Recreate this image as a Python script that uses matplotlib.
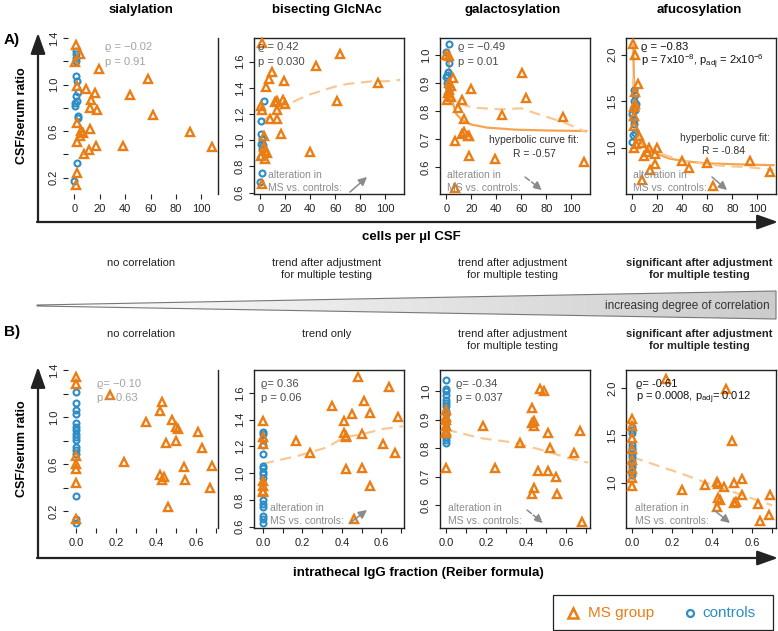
import matplotlib
matplotlib.use("Agg")
import matplotlib.pyplot as plt
from matplotlib.patches import Polygon, Rectangle
from matplotlib.colors import LinearSegmentedColormap
import numpy as np

plt.rcParams['font.family'] = ['Liberation Sans', 'DejaVu Sans']
plt.rcParams['mathtext.fontset'] = 'custom'
plt.rcParams['mathtext.rm'] = 'Liberation Sans'
plt.rcParams['mathtext.it'] = 'Liberation Sans:italic'
plt.rcParams['mathtext.bf'] = 'Liberation Sans:bold'

ORANGE = '#EA7D14'
BLUE = '#2C8DC7'
FIT_SOLID = '#F3A552'
FIT_DASH = '#F8C995'
GREY_TXT = '#8C8C8C'

W, H = 778, 631

titles = ['sialylation', 'bisecting GlcNAc', 'galactosylation', 'afucosylation']

# ---------------- row A: cells per µl CSF ----------------
sia_ms_cells = [1, 4.3, 0.5, 19.5, 58, 1.7, 9, 16, 43.5, 13, 12, 18, 62, 2, 12, 5, 7, 4.5,
                91, 2, 17, 11.5, 38, 7.5, 1.7, 1.2, 108]
sia_ms_ratio = [1.34, 1.26, 1.19, 1.13, 1.05, 0.99, 0.96, 0.93, 0.91, 0.87, 0.80, 0.78, 0.74,
                0.67, 0.62, 0.60, 0.58, 0.56, 0.59, 0.51, 0.47, 0.44, 0.47, 0.40, 0.24, 0.14, 0.46]
sia_ct_cells = [1, 1, 1, 1, 1.5, 2, 3, 1.5, 2, 0.5, 0.5, 2.5, 2.5, 2, 0]
sia_ct_ratio = [1.29, 1.26, 1.23, 1.20, 1.07, 1.03, 0.94, 0.90, 0.86, 0.84, 0.82, 0.73, 0.71,
                0.33, 0.17]

bis_ms_cells = [1.3, 64, 44.5, 9.3, 7.2, 18.7, 4.5, 94, 13.3, 12, 17.8, 20, 61, 0.3, 1.3,
                13.3, 8, 13.3, 16.8, 2.7, 39.5, 2.7, 4, 5.3, 0.8, 4, 1.3]
bis_ms_ratio = [1.74, 1.66, 1.57, 1.52, 1.47, 1.45, 1.41, 1.44, 1.30, 1.29, 1.31, 1.28, 1.30,
                1.26, 1.23, 1.23, 1.16, 1.16, 1.05, 1.03, 0.91, 0.95, 0.92, 0.90, 0.88, 0.86, 0.67]
bis_ct_cells = [2.7, 0.8, 0.5, 1.5, 0.5, 2.5, 1.2, 0.2, 1, 0]
bis_ct_ratio = [1.30, 1.15, 1.05, 1.01, 0.97, 0.96, 0.93, 0.87, 0.75, 0.68]
bis_loess_x = [2, 10, 20, 30, 40, 50, 60, 70, 80, 90, 100, 112]
bis_loess_y = [1.15, 1.20, 1.26, 1.31, 1.35, 1.38, 1.41, 1.43, 1.44, 1.45, 1.45, 1.46]

gal_ms_cells = [0, 1.9, 60.5, 5.3, 1.9, 3.5, 19.7, 63.8, 0.5, 12.5, 4, 9.3, 44.5, 93.5, 13.9,
                12.5, 14.5, 17, 18.5, 7, 17.9, 39.2, 7, 110, 1, 2.5, 3]
gal_ms_ratio = [1.00, 0.995, 0.935, 0.917, 0.90, 0.89, 0.88, 0.845, 0.84, 0.84, 0.85, 0.81,
                0.785, 0.78, 0.773, 0.72, 0.725, 0.71, 0.71, 0.695, 0.64, 0.63, 0.525, 0.62,
                0.865, 0.875, 0.855]
gal_ct_cells = [1.9, 0, 2, 1, 0.5, 0, 0.5, 1.5, 2.5, 1]
gal_ct_ratio = [1.04, 1.01, 0.97, 0.94, 0.93, 0.92, 0.90, 0.89, 0.87, 0.86]
gal_hyp_x = [2, 3, 5, 8, 12, 20, 33, 55, 80, 112]
gal_hyp_y = [0.99, 0.905, 0.833, 0.79, 0.77, 0.752, 0.741, 0.734, 0.731, 0.729]
gal_loess_x = [1, 5, 15, 22, 44, 60, 66, 80, 94, 102, 112]
gal_loess_y = [0.87, 0.84, 0.82, 0.812, 0.806, 0.81, 0.80, 0.78, 0.76, 0.745, 0.725]

afu_ms_cells = [0.3, 1.9, 4.5, 2, 2.5, 1.5, 1, 5, 7.7, 1.5, 13, 20, 11.7, 18.4, 9.6, 39.7,
                94.4, 60, 18.4, 45, 14.4, 110.4, 7.7, 64.5, 3, 1]
afu_ms_ratio = [2.12, 2.00, 1.68, 1.60, 1.47, 1.44, 1.34, 1.12, 1.05, 1.00, 1.00, 0.99, 0.95,
                0.93, 0.91, 0.86, 0.86, 0.83, 0.82, 0.78, 0.76, 0.74, 0.65, 0.59, 1.04, 1.23]
afu_ct_cells = [1, 2.5, 1, 3, 2, 0, 1, 1.5, 2, 0.5, 0]
afu_ct_ratio = [1.62, 1.57, 1.50, 1.47, 1.40, 1.36, 1.30, 1.25, 1.16, 1.13, 1.06]
afu_hyp_x = [0.8, 1, 1.3, 1.7, 2.2, 3, 4.5, 7, 11, 20, 30, 44, 60, 83, 113]
afu_hyp_y = [2.10, 1.95, 1.75, 1.55, 1.40, 1.25, 1.12, 1.05, 1.00, 0.93, 0.88, 0.85, 0.83,
             0.82, 0.81]
afu_loess_x = [0.5, 1, 2, 4, 6, 10, 18, 28, 40, 50, 60, 75, 92, 113]
afu_loess_y = [1.75, 1.60, 1.40, 1.20, 1.10, 1.02, 0.96, 0.91, 0.86, 0.84, 0.82, 0.80, 0.79,
               0.76]

# ---------------- row B: intrathecal IgG fraction ----------------
sia_ms_igg = [0, 0, 0, 0, 0, 0, 0, 0.17, 0.43, 0.42, 0.35, 0.48, 0.50, 0.51, 0.61, 0.50, 0.45,
              0.24, 0.54, 0.42, 0.44, 0.43, 0.545, 0.46, 0.63, 0.68, 0.67]
sia_ms_ratio_b = [1.34, 1.28, 0.67, 0.60, 0.56, 0.44, 0.14, 1.19, 1.13, 1.05, 0.96, 0.98, 0.92,
                  0.90, 0.87, 0.80, 0.78, 0.62, 0.58, 0.51, 0.49, 0.47, 0.47, 0.24, 0.74, 0.59,
                  0.40]
sia_ct_ratio_b = [1.21, 1.12, 1.06, 1.03, 0.95, 0.92, 0.89, 0.86, 0.83, 0.81, 0.75, 0.72, 0.69,
                  0.33, 0.14, 0.10]

bis_ms_igg = [0, 0, 0, 0, 0, 0, 0, 0.48, 0.35, 0.51, 0.41, 0.45, 0.545, 0.41, 0.42, 0.42, 0.50,
              0.17, 0.24, 0.61, 0.42, 0.50, 0.545, 0.46, 0.64, 0.685, 0.67]
bis_ms_ratio_b = [1.39, 1.27, 1.22, 0.94, 0.90, 0.87, 0.86, 1.72, 1.50, 1.54, 1.39, 1.44, 1.45,
                  1.30, 1.28, 1.27, 1.29, 1.24, 1.15, 1.22, 1.03, 1.04, 0.90, 0.66, 1.64, 1.42,
                  1.15]
bis_ct_ratio_b = [1.31, 1.29, 1.25, 1.21, 1.145, 1.055, 1.04, 1.01, 0.99, 0.96, 0.80, 0.77, 0.75,
                  0.68, 0.66, 0.63]
bis_lin_x = [0, 0.18, 0.32, 0.38, 0.42, 0.50, 0.61, 0.71]
bis_lin_y = [1.07, 1.13, 1.19, 1.24, 1.27, 1.29, 1.33, 1.35]

gal_ms_igg = [0, 0, 0, 0, 0, 0, 0, 0.47, 0.49, 0.43, 0.43, 0.44, 0.44, 0.51, 0.52, 0.185, 0.37,
              0.64, 0.246, 0.46, 0.51, 0.55, 0.44, 0.43, 0.555, 0.67, 0.68]
gal_ms_ratio_b = [0.935, 0.91, 0.90, 0.88, 0.86, 0.855, 0.73, 1.01, 1.00, 0.94, 0.89, 0.88,
                  0.895, 0.855, 0.80, 0.88, 0.82, 0.785, 0.73, 0.72, 0.72, 0.70, 0.66, 0.64,
                  0.64, 0.86, 0.54]
gal_ct_ratio_b = [1.04, 1.01, 1.00, 0.986, 0.97, 0.96, 0.95, 0.93, 0.92, 0.90, 0.89, 0.87, 0.85,
                  0.84, 0.83, 0.82]
gal_lin_x = [0, 0.17, 0.34, 0.50, 0.61, 0.71]
gal_lin_y = [0.866, 0.836, 0.82, 0.79, 0.766, 0.75]

afu_ms_igg = [0, 0, 0, 0, 0, 0, 0, 0, 0.17, 0.47, 0.50, 0.25, 0.365, 0.425, 0.43, 0.46, 0.51,
              0.55, 0.55, 0.69, 0.43, 0.44, 0.425, 0.51, 0.52, 0.63, 0.685, 0.64]
afu_ms_ratio_b = [1.67, 1.60, 1.47, 1.35, 1.24, 1.14, 1.05, 0.96, 2.10, 1.99, 1.44, 0.92, 0.97,
                  1.01, 0.99, 0.95, 1.00, 1.04, 0.87, 0.87, 0.84, 0.82, 0.74, 0.78, 0.79, 0.77,
                  0.66, 0.59]
afu_ct_ratio_b = [1.59, 1.56, 1.52, 1.40, 1.37, 1.34, 1.30, 1.27, 1.23, 1.20, 1.16, 1.11, 1.08]
afu_lin_x = [0, 0.24, 0.42, 0.55, 0.70]
afu_lin_y = [1.27, 1.10, 0.96, 0.87, 0.76]

stats_a = [['ϱ = −0.02', 'p = 0.91'],
           ['ϱ = 0.42', 'p = 0.030'],
           ['ϱ = −0.49', 'p = 0.01'],
           ['ϱ = −0.83', r'p = 7x10$^{-8}$, p$_{\mathrm{adj}}$ = 2x10$^{-6}$']]
stats_b = [['ϱ= −0.10', 'p = 0.63'],
           ['ϱ= 0.36', 'p = 0.06'],
           ['ϱ= -0.34', 'p = 0.037'],
           ['ϱ= -0.61', r'p = 0.0008, p$_{\mathrm{adj}}$= 0.012']]
stat_colors = ['#A3A3A3', '#4A4A4A', '#4A4A4A', '#111111']
notes_a = ['no correlation', 'trend after adjustment\nfor multiple testing',
           'trend after adjustment\nfor multiple testing',
           'significant after adjustment\nfor multiple testing']
notes_b = ['no correlation', 'trend only', 'trend after adjustment\nfor multiple testing',
           'significant after adjustment\nfor multiple testing']

fig = plt.figure(figsize=(W / 100, H / 100), dpi=100)

# overlay in pixel coordinates for labels and decorations
ov = fig.add_axes([0, 0, 1, 1])
ov.set_zorder(5)
ov.patch.set_visible(False)
ov.axis('off')

panel_x = [68, 254, 440, 626]
row_y = {'A': (38, 194), 'B': (370, 528)}


def make_ax(x0, y0, x1, y1):
    return fig.add_axes([x0 / W, 1 - y1 / H, (x1 - x0) / W, (y1 - y0) / H])


def style(ax, xlim, ylim, xticks, xlabels, yticks, ylabels, first=False):
    ax.set_xlim(xlim)
    ax.set_ylim(ylim)
    ax.set_xticks(xticks)
    ax.set_xticklabels(xlabels)
    ax.set_yticks(yticks)
    ax.set_yticklabels(ylabels, rotation=90, va='center')
    ax.tick_params(axis='both', direction='out', length=3.5, width=0.8, labelsize=8,
                   colors='#222222')
    ax.tick_params(axis='x', pad=4)
    ax.tick_params(axis='y', pad=3)
    for s in ax.spines.values():
        s.set_linewidth(1.0)
        s.set_color('#222222')
    if first:
        for s in ['left', 'top', 'bottom']:
            ax.spines[s].set_visible(False)
    ax.patch.set_visible(False)


def points(ax, ct_x, ct_y, ms_x, ms_y):
    ax.plot(ct_x, ct_y, 'o', ms=4.3, mfc='none', mec=BLUE, mew=1.5, clip_on=False, zorder=3)
    ax.plot(ms_x, ms_y, '^', ms=5.6, mfc='none', mec=ORANGE, mew=1.7, clip_on=False, zorder=4)


def solid(ax, x, y):
    ax.plot(x, y, '-', color=FIT_SOLID, lw=1.6, zorder=2)


def dashed(ax, x, y):
    ax.plot(x, y, '--', color=FIT_DASH, lw=1.6, dashes=(5, 3), zorder=2)


xa = [0, 20, 40, 60, 80, 100]
xa_lab = ['0', '20', '40', '60', '80', '100']
xb = [0, 0.1, 0.2, 0.3, 0.4, 0.5, 0.6, 0.7]
xb_lab = ['0.0', '', '0.2', '', '0.4', '', '0.6', '']
y1t = [0.2, 0.4, 0.6, 0.8, 1.0, 1.2, 1.4]
y1l = ['0.2', '', '0.6', '', '1.0', '', '1.4']
y2t = [0.6, 0.8, 1.0, 1.2, 1.4, 1.6]
y2l = ['0.6', '0.8', '1.0', '1.2', '1.4', '1.6']
y3t = [0.6, 0.7, 0.8, 0.9, 1.0]
y3l = ['0.6', '0.7', '0.8', '0.9', '1.0']
y4t = [1.0, 1.5, 2.0]
y4l = ['1.0', '1.5', '2.0']

# ---- row A panels
ya0, ya1 = row_y['A']
axA = [make_ax(x, ya0, x + 150, ya1) for x in panel_x]
points(axA[0], sia_ct_cells, sia_ct_ratio, sia_ms_cells, sia_ms_ratio)
style(axA[0], (-5, 113), (0.06, 1.40), xa, xa_lab, y1t, y1l, first=True)

points(axA[1], bis_ct_cells, bis_ct_ratio, bis_ms_cells, bis_ms_ratio)
dashed(axA[1], bis_loess_x, bis_loess_y)
style(axA[1], (-5, 115), (0.59, 1.78), xa, xa_lab, y2t, y2l)

points(axA[2], gal_ct_cells, gal_ct_ratio, gal_ms_cells, gal_ms_ratio)
solid(axA[2], gal_hyp_x, gal_hyp_y)
dashed(axA[2], gal_loess_x, gal_loess_y)
style(axA[2], (-5, 115), (0.505, 1.06), xa, xa_lab, y3t, y3l)

points(axA[3], afu_ct_cells, afu_ct_ratio, afu_ms_cells, afu_ms_ratio)
solid(axA[3], afu_hyp_x, afu_hyp_y)
dashed(axA[3], afu_loess_x, afu_loess_y)
style(axA[3], (-5, 115), (0.50, 2.18), xa, xa_lab, y4t, y4l)

# ---- row B panels
yb0, yb1 = row_y['B']
axB = [make_ax(x, yb0, x + 150, yb1) for x in panel_x]
points(axB[0], [0] * len(sia_ct_ratio_b), sia_ct_ratio_b, sia_ms_igg, sia_ms_ratio_b)
style(axB[0], (-0.04, 0.71), (0.06, 1.40), xb, xb_lab, y1t, y1l, first=True)

points(axB[1], [0] * len(bis_ct_ratio_b), bis_ct_ratio_b, bis_ms_igg, bis_ms_ratio_b)
dashed(axB[1], bis_lin_x, bis_lin_y)
style(axB[1], (-0.045, 0.715), (0.59, 1.77), xb, xb_lab, y2t, y2l)

points(axB[2], [0] * len(gal_ct_ratio_b), gal_ct_ratio_b, gal_ms_igg, gal_ms_ratio_b)
dashed(axB[2], gal_lin_x, gal_lin_y)
style(axB[2], (-0.03, 0.72), (0.52, 1.075), xb, xb_lab, y3t, y3l)

points(axB[3], [0] * len(afu_ct_ratio_b), afu_ct_ratio_b, afu_ms_igg, afu_ms_ratio_b)
dashed(axB[3], afu_lin_x, afu_lin_y)
style(axB[3], (-0.03, 0.72), (0.52, 2.19), xb, xb_lab, y4t, y4l)

# ---- overlay decorations (pixel space)
wedge = Polygon([(37, 305), (776, 291), (776, 319), (37, 306)], closed=True,
                facecolor='none', edgecolor='#777777', lw=0.8, zorder=3)
cmap = LinearSegmentedColormap.from_list('wedge', ['#FFFFFF', '#CCCCCC'])
im = ov.imshow(np.linspace(0, 1, 256).reshape(1, -1), extent=(37, 776, 319, 291),
               cmap=cmap, aspect='auto', zorder=2)
ov.add_patch(wedge)
im.set_clip_path(wedge)
ov.text(770, 306, 'increasing degree of correlation', ha='right', va='center',
        fontsize=8.5, color='#333333', zorder=4)

# big axis arrows
arrow_kw = dict(arrowstyle='-|>,head_length=0.9,head_width=0.32', lw=1.6, color='#222222',
                shrinkA=0, shrinkB=0, mutation_scale=14)
for yb_line, ytop in [(222, 33), (558, 367)]:
    ov.annotate('', xy=(38, ytop), xytext=(38, yb_line), arrowprops=arrow_kw)
    ov.annotate('', xy=(778, yb_line), xytext=(37, yb_line), arrowprops=arrow_kw)

ov.text(4, 40, 'A)', fontsize=11, fontweight='bold', va='center', ha='left')
ov.text(4, 332, 'B)', fontsize=11, fontweight='bold', va='center', ha='left')
ov.text(22, 116, 'CSF/serum ratio', rotation=90, fontsize=9, fontweight='bold',
        ha='center', va='center')
ov.text(22, 449, 'CSF/serum ratio', rotation=90, fontsize=9, fontweight='bold',
        ha='center', va='center')
ov.text(411, 237, 'cells per µl CSF', fontsize=9.5, fontweight='bold', ha='center',
        va='center')
ov.text(418, 573, 'intrathecal IgG fraction (Reiber formula)', fontsize=9.5,
        fontweight='bold', ha='center', va='center')

for i, x in enumerate(panel_x):
    cx = x + 73
    weight = 'bold' if i == 3 else 'normal'
    ov.text(cx, 10, titles[i], fontsize=9.5, fontweight='bold', ha='center', va='center')
    ov.text(cx, 258, notes_a[i], fontsize=8, ha='center', va='top', linespacing=1.3,
            fontweight=weight, color='#222222')
    ov.text(cx, 329, notes_b[i], fontsize=8, ha='center', va='top', linespacing=1.3,
            fontweight=weight, color='#222222')

# statistics text
stat_x_a = [105, 258, 458, 641]
stat_x_b = [97, 261, 456, 636]
for i in range(4):
    for j, s in enumerate(stats_a[i]):
        ov.text(stat_x_a[i], 47 + 15 * j, s, fontsize=8, color=stat_colors[i], va='center')
    for j, s in enumerate(stats_b[i]):
        ov.text(stat_x_b[i], 384 + 14 * j, s, fontsize=8, color=stat_colors[i], va='center')

# hyperbolic fit labels
ov.text(534, 140, 'hyperbolic curve fit:', fontsize=7.5, color='#333333', ha='center',
        va='center')
ov.text(534, 154, 'R = -0.57', fontsize=7.5, color='#333333', ha='center', va='center')
ov.text(725, 138, 'hyperbolic curve fit:', fontsize=7.5, color='#333333', ha='center',
        va='center')
ov.text(724, 151, 'R = -0.84', fontsize=7.5, color='#333333', ha='center', va='center')

# alteration notes and arrows
alt_pos = [(268, 175), (447, 175), (633, 175), (270, 508), (448, 508), (635, 508)]
for (tx, ty) in alt_pos:
    ov.text(tx, ty, 'alteration in', fontsize=7.5, color=GREY_TXT, va='center')
    ov.text(tx, ty + 13, 'MS vs. controls:', fontsize=7.5, color=GREY_TXT, va='center')

alt_arrows = [((350, 192), (367, 177), '-'), ((525, 177), (542, 190), '--'),
              ((712, 177), (727, 190), '-'), ((350, 523), (367, 510), '-'),
              ((527, 510), (543, 523), '--'), ((714, 510), (730, 523), '-')]
for start, end, ls in alt_arrows:
    ov.annotate('', xy=end, xytext=start,
                arrowprops=dict(arrowstyle='-|>,head_length=0.5,head_width=0.25',
                                color='#8A8A8A', lw=1.1, linestyle=ls, shrinkA=0, shrinkB=0,
                                mutation_scale=10))

# legend box
ov.add_patch(Rectangle((553, 595), 220, 35, facecolor='white', edgecolor='#222222', lw=0.9))
ov.plot([573], [613], '^', ms=6.5, mfc='none', mec=ORANGE, mew=1.8)
ov.text(588, 613, 'MS group', fontsize=11, color=ORANGE, va='center')
ov.plot([690], [613], 'o', ms=5, mfc='none', mec=BLUE, mew=1.6)
ov.text(702, 613, 'controls', fontsize=11, color=BLUE, va='center')
ov.set_xlim(0, W)
ov.set_ylim(H, 0)

fig.savefig('out.png', dpi=100)
